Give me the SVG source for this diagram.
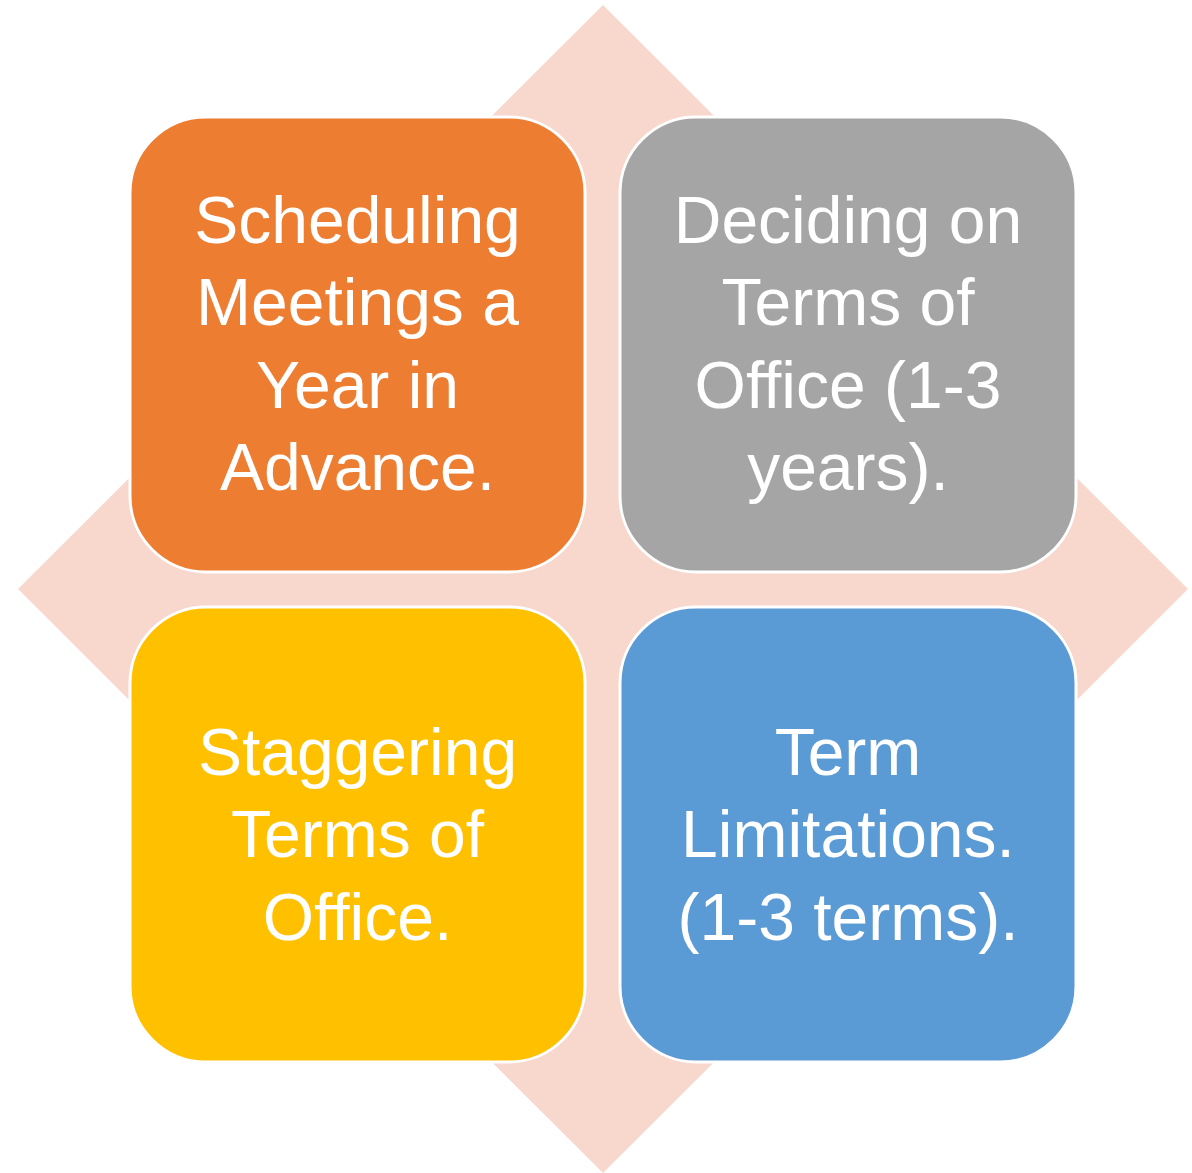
<svg xmlns="http://www.w3.org/2000/svg" width="1192" height="1173" viewBox="0 0 1192 1173">
<style>
.box{stroke:#FFFFFF;stroke-width:3}
.t{font-family:"Liberation Sans",Arial,sans-serif;font-size:66px;fill:#FFFFFF;text-anchor:middle}
</style>
<rect width="1192" height="1173" fill="#FFFFFF"/>
<g id="background-diamond">
<polygon points="603,5 1188,589 603,1173 18,589" fill="#F8D7CD"/>
</g>
<g id="connectors"></g>
<g id="node-scheduling">
<rect class="box" x="130" y="117" width="455" height="455" rx="76" ry="76" fill="#ED7D31"/>
<text class="t" x="357.5" y="243">Scheduling</text>
<text class="t" x="357.5" y="325">Meetings a</text>
<text class="t" x="357.5" y="408">Year in</text>
<text class="t" x="357.5" y="490">Advance.</text>
</g>
<g id="node-deciding">
<rect class="box" x="620" y="117" width="456" height="455" rx="76" ry="76" fill="#A5A5A5"/>
<text class="t" x="848" y="243">Deciding on</text>
<text class="t" x="848" y="325">Terms of</text>
<text class="t" x="848" y="408">Office (1-3</text>
<text class="t" x="848" y="490">years).</text>
</g>
<g id="node-staggering">
<rect class="box" x="130" y="607" width="455" height="455" rx="76" ry="76" fill="#FFC000"/>
<text class="t" x="357.5" y="775">Staggering</text>
<text class="t" x="357.5" y="857">Terms of</text>
<text class="t" x="357.5" y="940">Office.</text>
</g>
<g id="node-term-limitations">
<rect class="box" x="620" y="607" width="456" height="455" rx="76" ry="76" fill="#5B9BD5"/>
<text class="t" x="848" y="775">Term</text>
<text class="t" x="848" y="857">Limitations.</text>
<text class="t" x="848" y="940">(1-3 terms).</text>
</g>
</svg>
